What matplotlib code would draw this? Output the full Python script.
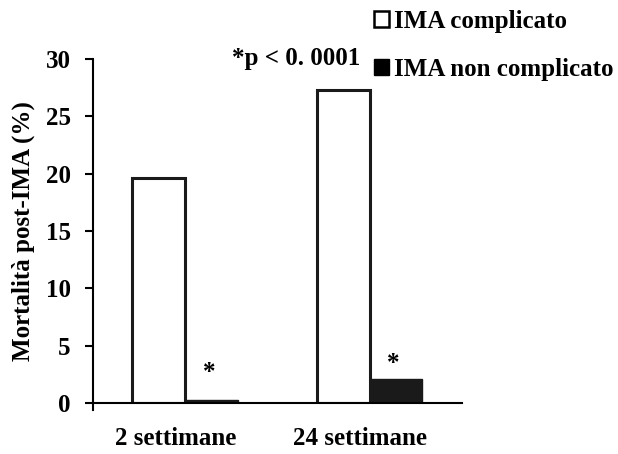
import matplotlib
matplotlib.use("Agg")
import matplotlib.pyplot as plt
from matplotlib.patches import Patch
import numpy as np

periods = ["2 settimane", "24 settimane"]
complicato = [19.6, 27.3]
non_complicato = [0.3, 2.1]
series_labels = ["IMA complicato", "IMA non complicato"]

plt.rcParams['font.family'] = ['Liberation Serif', 'DejaVu Serif']
plt.rcParams['font.weight'] = 'bold'

fig = plt.figure(figsize=(6.18, 4.54), dpi=100)
ax = fig.add_axes([0.1505, 0.1123, 0.597, 0.7577])

x = np.arange(len(periods))
width = 0.286
ax.bar(x - width / 2, complicato, width, color='white', edgecolor='#1a1a1a', linewidth=2.2)
ax.bar(x + width / 2, non_complicato, width, color='#1a1a1a', edgecolor='#1a1a1a', linewidth=1)

# asterischi sopra le barre "non complicato"
star_offsets = [11, 3]
for xi, v, off in zip(x, non_complicato, star_offsets):
    ax.annotate('*', (xi + width / 2, v), xytext=(-2, off), textcoords='offset points',
                ha='center', va='bottom', fontsize=18, fontweight='bold')

ax.set_xlim(-0.5, 1.5)
ax.set_ylim(0, 30)
ax.set_yticks([0, 5, 10, 15, 20, 25, 30])
ax.set_xticks(x - 0.05)
ax.set_xticklabels(periods)
ax.tick_params(axis='x', length=0, pad=17, labelsize=18)
ax.tick_params(axis='y', length=6, width=1.5, direction='out', pad=10, labelsize=18)
for lab in ax.get_xticklabels() + ax.get_yticklabels():
    lab.set_fontweight('bold')
ax.spines['top'].set_visible(False)
ax.spines['right'].set_visible(False)
ax.spines['left'].set_linewidth(1.5)
ax.spines['bottom'].set_linewidth(1.5)
ax.spines['left'].set_bounds(-0.6, 30)
ax.set_ylabel('Mortalità post-IMA (%)', fontsize=18, fontweight='bold', labelpad=8)

handles = [Patch(facecolor='white', edgecolor='black', linewidth=1.8),
           Patch(facecolor='black', edgecolor='black')]
fig.legend(handles, series_labels, loc='upper left', bbox_to_anchor=(0.568, 1.027),
           frameon=False, handlelength=0.6, handleheight=0.6, handletextpad=0.2,
           labelspacing=0.98, prop={'size': 18, 'weight': 'bold'})

fig.text(0.375, 0.857, '*p < 0. 0001', fontsize=18, fontweight='bold', ha='left', va='baseline')

fig.savefig('out.png', dpi=100)
